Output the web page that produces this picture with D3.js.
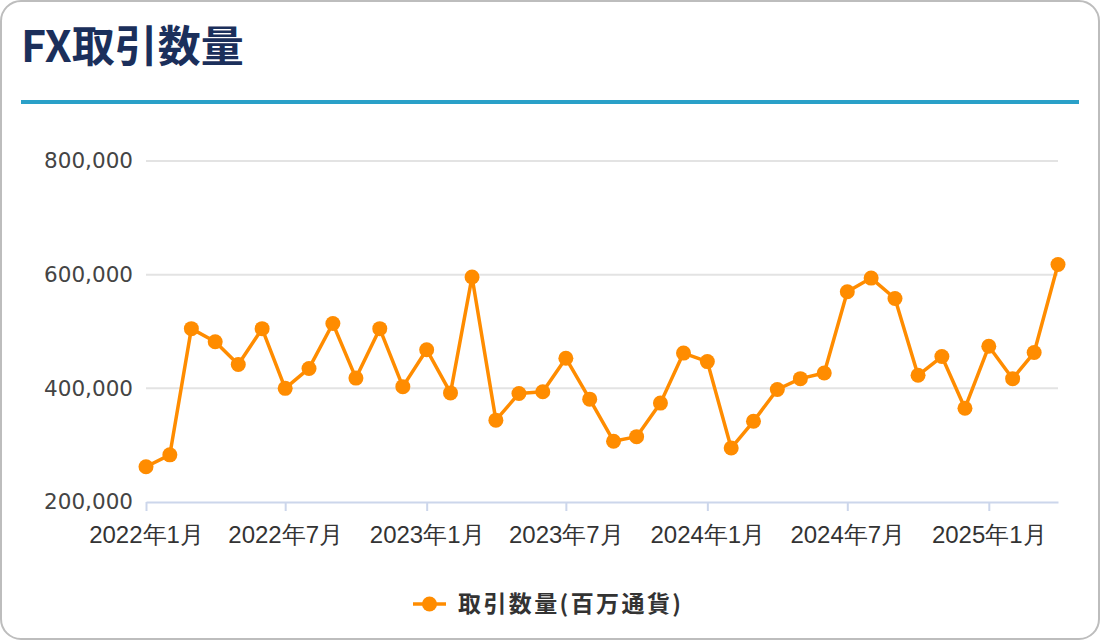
<!DOCTYPE html>
<html>
<head>
<meta charset="utf-8">
<script src="https://cdn.jsdelivr.net/npm/d3@7"></script>
<style>
    html, body { margin: 0; padding: 0; background: #fff; }
    body { width: 1100px; height: 640px; overflow: hidden; font-family: "Noto Sans CJK JP", "Noto Sans", sans-serif; }
</style>
</head>
<body>
<div id="chart"></div>
<script>
// Monthly data, 2022-01 .. 2025-04
const months = [
    '2022-01', '2022-02', '2022-03', '2022-04', '2022-05', '2022-06',
    '2022-07', '2022-08', '2022-09', '2022-10', '2022-11', '2022-12',
    '2023-01', '2023-02', '2023-03', '2023-04', '2023-05', '2023-06',
    '2023-07', '2023-08', '2023-09', '2023-10', '2023-11', '2023-12',
    '2024-01', '2024-02', '2024-03', '2024-04', '2024-05', '2024-06',
    '2024-07', '2024-08', '2024-09', '2024-10', '2024-11', '2024-12',
    '2025-01', '2025-02', '2025-03', '2025-04'
];
const volumes = [
    262000, 283000, 505000, 482000, 442000, 505000,
    400000, 435000, 514000, 418000, 505000, 403000,
    468000, 392000, 596000, 344000, 391000, 394000,
    453000, 381000, 307000, 315000, 374000, 462000,
    447000, 295000, 342000, 398000, 417000, 427000,
    570000, 594000, 558000, 423000, 456000, 365000,
    474000, 417000, 463000, 618000
];
const yTicks = [200000, 400000, 600000, 800000];
const xTickMonths = ['2022-01', '2022-07', '2023-01', '2023-07', '2024-01', '2024-07', '2025-01'];

const titleText = 'FX取引数量';
const seriesName = '取引数量(百万通貨)';

const W = 1100, H = 640;
const margin = { top: 161, right: 42, bottom: 138, left: 146 };
const innerW = W - margin.left - margin.right;
const innerH = H - margin.top - margin.bottom;
const orange = '#ff8c00';

const parse = d3.timeParse('%Y-%m');
const data = months.map((m, i) => ({ date: parse(m), value: volumes[i] }));

const svg = d3.select('#chart').append('svg')
    .attr('width', W)
    .attr('height', H);

// Card frame
svg.append('rect')
    .attr('x', 1).attr('y', 1)
    .attr('width', W - 2).attr('height', H - 2)
    .attr('rx', 20).attr('ry', 20)
    .attr('fill', '#fff')
    .attr('stroke', '#bdbdbd')
    .attr('stroke-width', 2);

// Title + rule
svg.append('text')
    .attr('x', 21).attr('y', 62)
    .attr('fill', '#1b2f5b')
    .attr('font-size', 43)
    .attr('font-weight', 700)
    .text(titleText);

svg.append('line')
    .attr('x1', 21).attr('x2', 1079)
    .attr('y1', 102).attr('y2', 102)
    .attr('stroke', '#2aa0c8')
    .attr('stroke-width', 4);

const g = svg.append('g')
    .attr('transform', `translate(${margin.left}, ${margin.top})`);

const x = d3.scaleTime()
    .domain(d3.extent(data, d => d.date))
    .range([0, innerW]);

const y = d3.scaleLinear()
    .domain([200000, 800000])
    .range([innerH, 0]);

// Grid lines
g.append('g')
    .selectAll('line')
    .data(yTicks.filter(t => t > 200000))
    .join('line')
    .attr('x1', 0).attr('x2', innerW)
    .attr('y1', d => y(d)).attr('y2', d => y(d))
    .attr('stroke', '#e3e3e3')
    .attr('stroke-width', 2);

// Y axis labels
const yAxis = d3.axisLeft(y)
    .tickValues(yTicks)
    .tickSize(0)
    .tickPadding(13)
    .tickFormat(d3.format(','));

g.append('g')
    .call(yAxis)
    .call(s => s.select('.domain').remove())
    .selectAll('text')
    .attr('fill', '#444')
    .attr('font-size', 21.5)
    .attr('font-family', '"DejaVu Sans", sans-serif');

// X axis
const xAxis = d3.axisBottom(x)
    .tickValues(xTickMonths.map(parse))
    .tickSize(9)
    .tickSizeOuter(0)
    .tickPadding(15)
    .tickFormat(d => `${d.getFullYear()}年${d.getMonth() + 1}月`);

const xg = g.append('g')
    .attr('transform', `translate(0, ${innerH})`)
    .call(xAxis);

xg.select('.domain')
    .attr('stroke', '#ccd6eb')
    .attr('stroke-width', 2);
xg.selectAll('.tick line')
    .attr('stroke', '#ccd6eb')
    .attr('stroke-width', 2);
xg.selectAll('text')
    .attr('fill', '#333')
    .attr('font-size', 24);

// Line + points
const line = d3.line()
    .x(d => x(d.date))
    .y(d => y(d.value));

g.append('path')
    .datum(data)
    .attr('fill', 'none')
    .attr('stroke', orange)
    .attr('stroke-width', 3.5)
    .attr('stroke-linejoin', 'round')
    .attr('d', line);

g.append('g')
    .selectAll('circle')
    .data(data)
    .join('circle')
    .attr('cx', d => x(d.date))
    .attr('cy', d => y(d.value))
    .attr('r', 7.5)
    .attr('fill', orange);

// Legend
const legend = svg.append('g')
    .attr('transform', 'translate(413, 604)');

legend.append('line')
    .attr('x1', 0).attr('x2', 33)
    .attr('stroke', orange)
    .attr('stroke-width', 3.5);

legend.append('circle')
    .attr('cx', 16.5).attr('cy', 0)
    .attr('r', 7.5)
    .attr('fill', orange);

legend.append('text')
    .attr('x', 45).attr('y', 0)
    .attr('dy', '0.36em')
    .attr('fill', '#333')
    .attr('font-size', 23)
    .attr('font-weight', 700)
    .attr('letter-spacing', 2.4)
    .text(seriesName);
</script>
</body>
</html>
